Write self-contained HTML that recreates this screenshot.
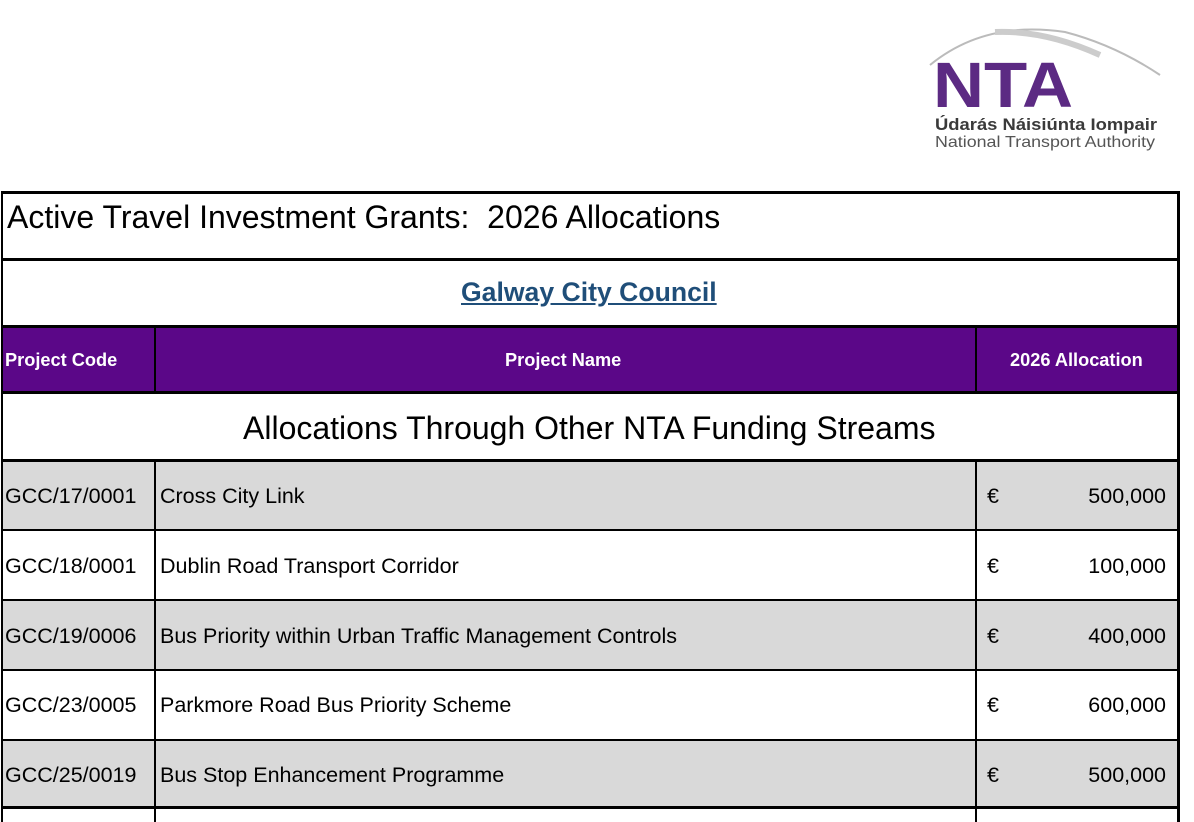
<!DOCTYPE html>
<html><head><meta charset="utf-8"><style>
body{margin:0;width:1194px;height:822px;background:#fff;position:relative;overflow:hidden;font-family:"Liberation Sans",sans-serif}
.a{position:absolute}
.h{position:absolute;background:#000;left:1px;width:1178px}
.v{position:absolute;background:#000}
.t{position:absolute;font-size:21.5px;color:#000;white-space:nowrap;line-height:1}
.r{position:absolute;font-size:21.5px;color:#000;white-space:nowrap;line-height:1;right:28px;text-align:right}
.g{position:absolute;background:#d9d9d9;left:3px;width:1175px}
</style></head><body>
<svg class="a" style="left:925px;top:20px" width="260" height="140">
<path d="M5 45 Q60 0 140 12 Q190 25 235 55" stroke="#bbb" stroke-width="2" fill="none"/>
<path d="M70 12 Q120 10 175 35" stroke="#ccc" stroke-width="6" fill="none"/>
<text x="8" y="87" font-family="Liberation Sans" font-weight="bold" font-size="64" fill="#5c2a83" textLength="140" lengthAdjust="spacingAndGlyphs">NTA</text>
<text x="10" y="110" font-family="Liberation Sans" font-weight="bold" font-size="17" fill="#3a3a3a" textLength="222" lengthAdjust="spacingAndGlyphs">Údarás Náisiúnta Iompair</text>
<text x="10" y="127" font-family="Liberation Sans" font-size="16" fill="#555" textLength="220" lengthAdjust="spacingAndGlyphs">National Transport Authority</text>
</svg>
<div class="a" style="left:3px;top:326px;width:1175px;height:66px;background:#5b0788"></div>
<div class="g" style="top:462px;height:68px"></div>
<div class="g" style="top:600px;height:70px"></div>
<div class="g" style="top:740px;height:66px"></div>
<div class="h" style="top:191px;height:3px"></div>
<div class="h" style="top:258px;height:3px"></div>
<div class="h" style="top:325px;height:3px"></div>
<div class="h" style="top:391px;height:3px"></div>
<div class="h" style="top:459px;height:3px"></div>
<div class="h" style="top:529px;height:2px"></div>
<div class="h" style="top:599px;height:2px"></div>
<div class="h" style="top:669px;height:2px"></div>
<div class="h" style="top:739px;height:2px"></div>
<div class="h" style="top:806px;height:3px"></div>
<div class="v" style="left:1px;top:191px;width:2px;height:631px"></div>
<div class="v" style="left:1177px;top:191px;width:3px;height:631px"></div>
<div class="v" style="left:154px;top:326px;width:2px;height:66px"></div>
<div class="v" style="left:975px;top:326px;width:2px;height:66px"></div>
<div class="v" style="left:154px;top:460px;width:2px;height:362px"></div>
<div class="v" style="left:975px;top:460px;width:2px;height:362px"></div>
<div class="t" style="left:7px;top:201px;font-size:32px">Active Travel Investment Grants:&nbsp; 2026 Allocations</div>
<div class="t" style="left:461px;top:279px;font-size:26.6px;font-weight:bold;color:#1f4e79;text-decoration:underline">Galway City Council</div>
<div class="t" style="left:5px;top:351px;font-size:18.2px;font-weight:bold;color:#fff">Project Code</div>
<div class="t" style="left:505px;top:351px;font-size:18.2px;font-weight:bold;color:#fff">Project Name</div>
<div class="t" style="left:1010px;top:351px;font-size:18.2px;font-weight:bold;color:#fff">2026 Allocation</div>
<div class="t" style="left:243px;top:412px;font-size:32px">Allocations Through Other NTA Funding Streams</div>
<div class="t" style="left:5px;top:486px">GCC/17/0001</div><div class="t" style="left:160px;top:486px">Cross City Link</div><div class="t" style="left:987px;top:486px">€</div><div class="r" style="top:486px">500,000</div>
<div class="t" style="left:5px;top:556px">GCC/18/0001</div><div class="t" style="left:160px;top:556px">Dublin Road Transport Corridor</div><div class="t" style="left:987px;top:556px">€</div><div class="r" style="top:556px">100,000</div>
<div class="t" style="left:5px;top:626px">GCC/19/0006</div><div class="t" style="left:160px;top:626px">Bus Priority within Urban Traffic Management Controls</div><div class="t" style="left:987px;top:626px">€</div><div class="r" style="top:626px">400,000</div>
<div class="t" style="left:5px;top:695px">GCC/23/0005</div><div class="t" style="left:160px;top:695px">Parkmore Road Bus Priority Scheme</div><div class="t" style="left:987px;top:695px">€</div><div class="r" style="top:695px">600,000</div>
<div class="t" style="left:5px;top:765px">GCC/25/0019</div><div class="t" style="left:160px;top:765px">Bus Stop Enhancement Programme</div><div class="t" style="left:987px;top:765px">€</div><div class="r" style="top:765px">500,000</div>
</body></html>
